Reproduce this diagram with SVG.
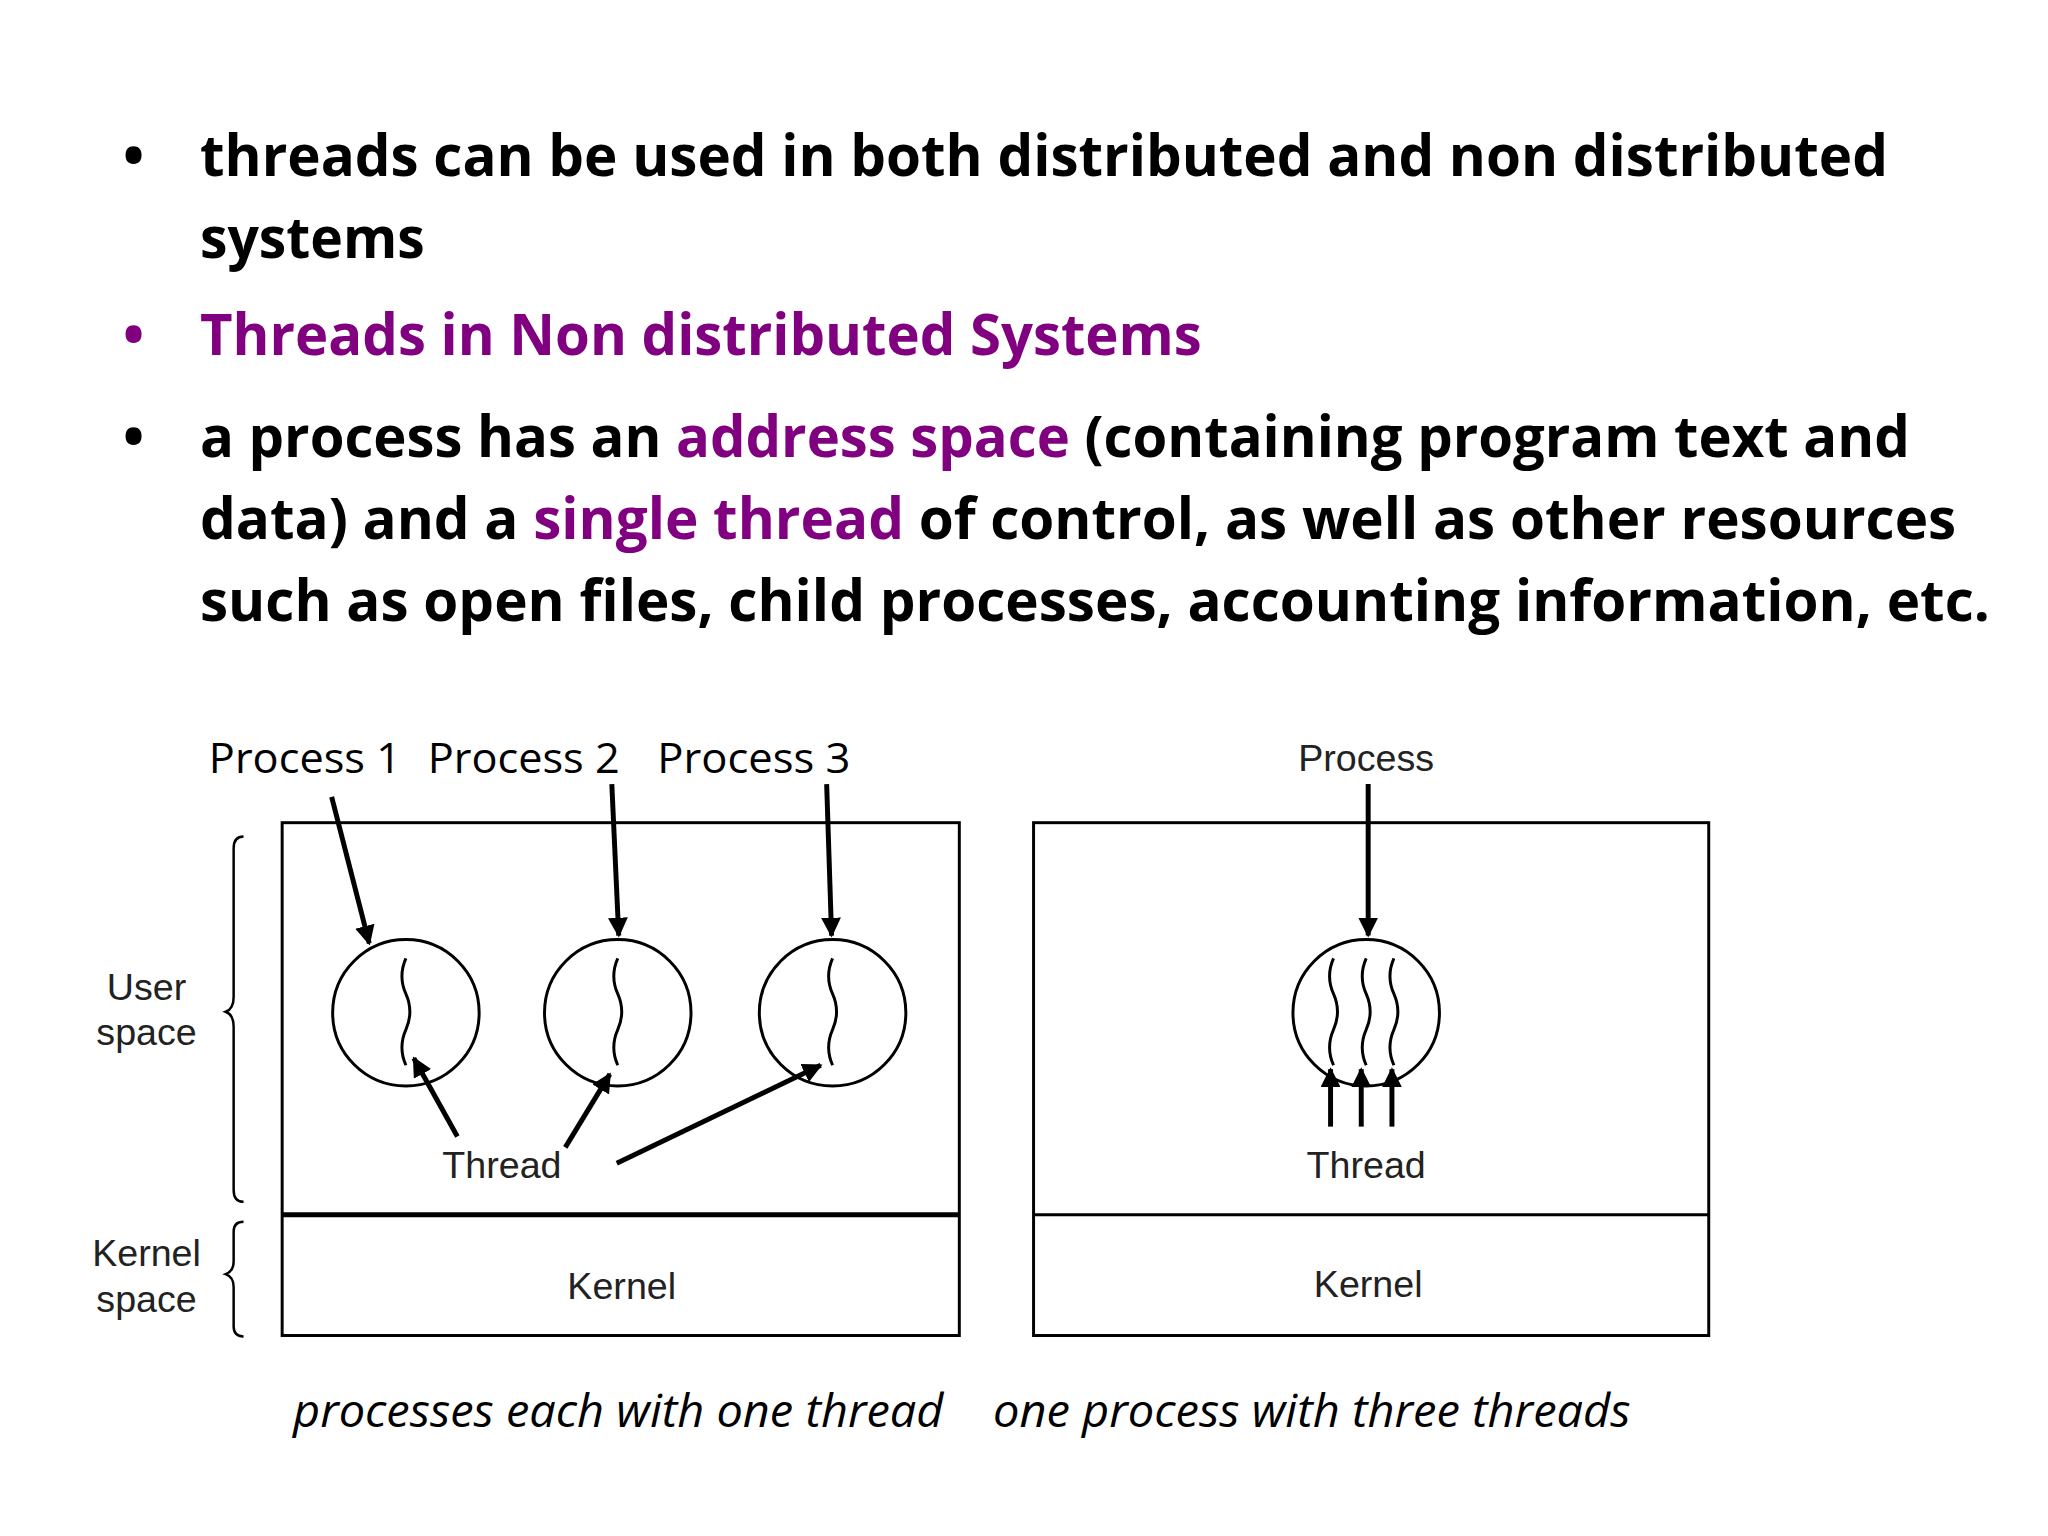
<svg xmlns="http://www.w3.org/2000/svg" width="2048" height="1536" viewBox="0 0 2048 1536">
<style>
.b{font-family:"Open Sans","Liberation Sans",sans-serif;font-weight:bold;font-size:58px;fill:#000}
.p{fill:#800080}
.lab{font-family:"Liberation Sans",Arial,sans-serif;font-size:38px;fill:#222;text-anchor:middle}
.pl{font-family:"Open Sans","Liberation Sans",sans-serif;font-size:42px;fill:#000}
.cap{font-family:"Open Sans","Liberation Sans",sans-serif;font-style:italic;font-size:46px;fill:#000}
.box{fill:none;stroke:#000;stroke-width:3}
.arr{stroke:#000;stroke-width:5;fill:none;marker-end:url(#ah)}
.sq{stroke:#000;stroke-width:3;fill:none}
.br{stroke:#000;stroke-width:2.5;fill:none}
</style>
<defs>
<marker id="ah" viewBox="0 0 10 10" refX="9" refY="5" markerWidth="4" markerHeight="4" orient="auto" markerUnits="strokeWidth">
<path d="M0,0 L10,5 L0,10 Z" fill="#000"/>
</marker>
<path id="wave" d="M0,0 q-8,18 0,36 q8,18 0,36 q-8,18 0,36" class="sq"/>
</defs>
<rect width="2048" height="1536" fill="#fff"/>
<g transform="scale(0.99)">
<g id="text">
<text class="b" x="124" y="178">•</text>
<text class="b" x="202" y="178" textLength="1705" lengthAdjust="spacingAndGlyphs">threads can be used in both distributed and non distributed</text>
<text class="b" x="202" y="261" textLength="227" lengthAdjust="spacingAndGlyphs">systems</text>
<text class="b p" x="124" y="359">•</text>
<text class="b p" x="202" y="359" textLength="1012" lengthAdjust="spacingAndGlyphs">Threads in Non distributed Systems</text>
<text class="b" x="124" y="462">•</text>
<text class="b" x="202" y="462" textLength="1727" lengthAdjust="spacingAndGlyphs">a process has an <tspan class="p">address space</tspan> (containing program text and</text>
<text class="b" x="202" y="544" textLength="1774" lengthAdjust="spacingAndGlyphs">data) and a <tspan class="p">single thread</tspan> of control, as well as other resources</text>
<text class="b" x="202" y="627" textLength="1808" lengthAdjust="spacingAndGlyphs">such as open files, child processes, accounting information, etc.</text>
</g>
<g id="left-diagram">
<text class="pl" x="211" y="781" textLength="194" lengthAdjust="spacingAndGlyphs">Process 1</text>
<text class="pl" x="432" y="781" textLength="194" lengthAdjust="spacingAndGlyphs">Process 2</text>
<text class="pl" x="664" y="781" textLength="195" lengthAdjust="spacingAndGlyphs">Process 3</text>
<rect class="box" x="285" y="831" width="684" height="518"/>
<line x1="285" y1="1227" x2="969" y2="1227" stroke="#000" stroke-width="5"/>
<circle class="box" cx="410" cy="1023" r="74"/>
<circle class="box" cx="624" cy="1023" r="74"/>
<circle class="box" cx="841" cy="1023" r="74"/>
<use href="#wave" x="410" y="968"/>
<use href="#wave" x="624" y="968"/>
<use href="#wave" x="841" y="968"/>
<text class="lab" x="507" y="1190">Thread</text>
<text class="lab" x="628" y="1312">Kernel</text>
<text class="lab" x="148" y="1010">User</text>
<text class="lab" x="148" y="1056">space</text>
<text class="lab" x="148" y="1279">Kernel</text>
<text class="lab" x="148" y="1325">space</text>
<path class="br" d="M246,845 q-10,0 -10,12 v150 q0,12 -8,15 q8,3 8,15 v165 q0,12 10,12"/>
<path class="br" d="M246,1234 q-10,0 -10,10 v30 q0,10 -8,13 q8,3 8,13 v40 q0,10 10,10"/>
<text class="cap" x="296" y="1441" textLength="657" lengthAdjust="spacingAndGlyphs">processes each with one thread</text>
</g>
<g id="right-diagram">
<text class="lab" x="1380" y="779">Process</text>
<rect class="box" x="1044" y="831" width="682" height="518"/>
<line x1="1044" y1="1227" x2="1726" y2="1227" stroke="#000" stroke-width="3"/>
<circle class="box" cx="1380" cy="1023" r="74"/>
<use href="#wave" x="1347" y="968"/>
<use href="#wave" x="1380" y="968"/>
<use href="#wave" x="1408" y="968"/>
<text class="lab" x="1380" y="1190">Thread</text>
<text class="lab" x="1382" y="1310">Kernel</text>
<text class="cap" x="1003" y="1441" textLength="644" lengthAdjust="spacingAndGlyphs">one process with three threads</text>
</g>
<g id="connectors">
<line class="arr" x1="335" y1="805" x2="373" y2="953"/>
<line class="arr" x1="618" y1="792" x2="625" y2="945"/>
<line class="arr" x1="835" y1="792" x2="840" y2="945"/>
<line class="arr" x1="462" y1="1148" x2="418" y2="1069"/>
<line class="arr" x1="571" y1="1159" x2="616" y2="1085"/>
<line class="arr" x1="623" y1="1175" x2="829" y2="1076"/>
<line class="arr" x1="1382" y1="792" x2="1382" y2="945"/>
<line class="arr" x1="1344" y1="1138" x2="1344" y2="1080"/>
<line class="arr" x1="1375" y1="1138" x2="1375" y2="1080"/>
<line class="arr" x1="1406" y1="1138" x2="1406" y2="1080"/>
</g>
</g>
</svg>
